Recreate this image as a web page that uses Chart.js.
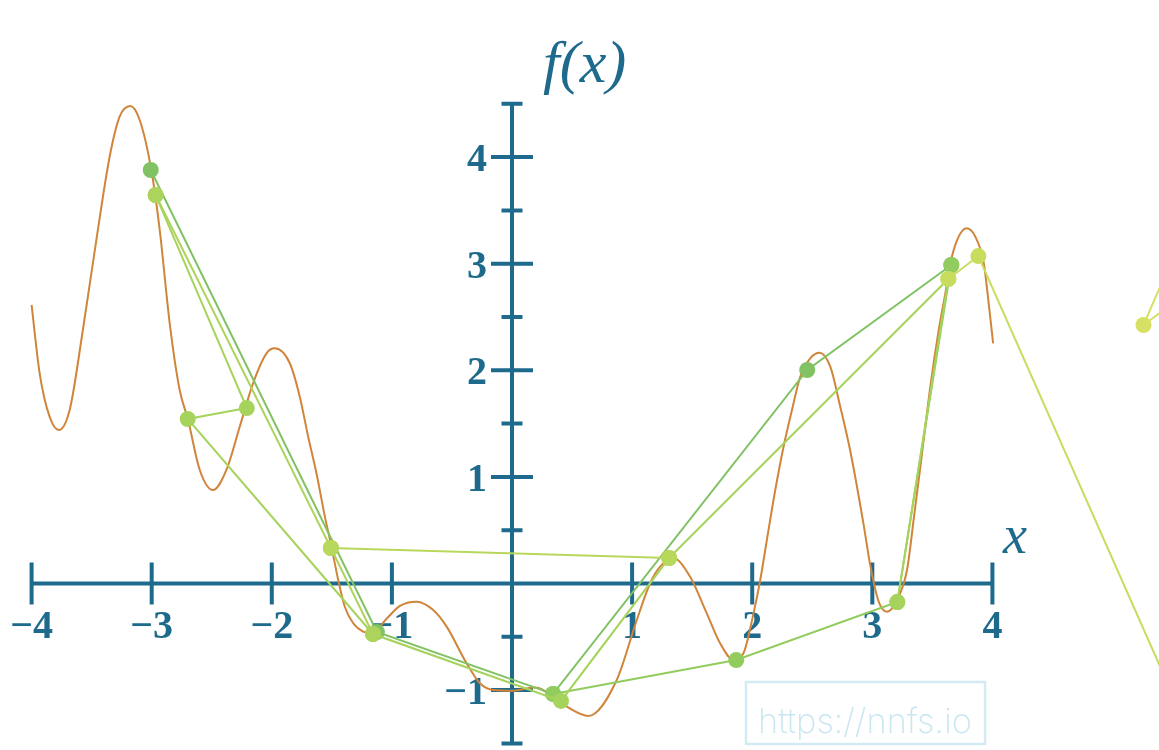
<!DOCTYPE html>
<html>
<head>
<meta charset="utf-8">
<script src="https://cdn.jsdelivr.net/npm/chart.js@4.4.1/dist/chart.umd.min.js"></script>
<style>
    html, body { margin: 0; padding: 0; background: #ffffff; overflow: hidden; }
    #chart-wrap { position: relative; width: 1159px; height: 750px; }
    #fit-chart { display: block; }
</style>
</head>
<body>
<div id="chart-wrap"><canvas id="fit-chart"></canvas></div>
<script>
// target function samples (orange curve)
const curveX = [-4.0, -3.933, -3.85, -3.773, -3.683, -3.573, -3.461, -3.35, -3.267, -3.178, -3.1, -3.003, -2.933, -2.85, -2.767, -2.697, -2.6, -2.489, -2.378, -2.267, -2.156, -2.044, -1.975, -1.85, -1.767, -1.697, -1.628, -1.558, -1.503, -1.447, -1.392, -1.322, -1.239, -1.17, -1.044, -0.933, -0.794, -0.656, -0.544, -0.378, -0.267, -0.156, 0.011, 0.178, 0.233, 0.456, 0.636, 0.872, 1.039, 1.15, 1.233, 1.344, 1.483, 1.622, 1.733, 1.844, 1.928, 2.011, 2.067, 2.122, 2.192, 2.261, 2.331, 2.4, 2.483, 2.561, 2.65, 2.733, 2.817, 2.928, 2.983, 3.053, 3.122, 3.206, 3.289, 3.344, 3.414, 3.483, 3.553, 3.608, 3.65, 3.706, 3.783, 3.858, 3.928, 3.969, 4.006];
const curveY = [2.613, 1.972, 1.565, 1.44, 1.628, 2.378, 3.222, 4.004, 4.379, 4.479, 4.348, 3.879, 3.316, 2.441, 1.815, 1.534, 1.065, 0.877, 1.065, 1.471, 1.878, 2.159, 2.206, 2.066, 1.753, 1.377, 1.034, 0.627, 0.345, 0.033, -0.218, -0.373, -0.452, -0.47, -0.33, -0.21, -0.171, -0.249, -0.405, -0.749, -0.936, -0.999, -1.006, -0.975, -0.985, -1.156, -1.243, -0.905, -0.342, 0.002, 0.158, 0.236, 0.064, -0.28, -0.561, -0.718, -0.652, -0.28, 0.033, 0.408, 0.877, 1.283, 1.628, 1.94, 2.113, 2.165, 2.034, 1.659, 1.24, 0.55, 0.17, -0.17, -0.265, -0.155, 0.127, 0.596, 1.221, 1.846, 2.378, 2.722, 3.004, 3.222, 3.332, 3.253, 3.004, 2.628, 2.253];

// fitted polylines (green shades)
const fitAX = [-3.008, -1.125, 0.342, 2.458, 3.658];
const fitAY = [3.879, -0.455, -1.036, 2.003, 2.988];
const fitBX = [0.342, 1.867, 3.208, 3.658];
const fitBY = [-1.036, -0.718, -0.174, 2.988];
const fitCX = [-2.967, -2.208, -2.70, -1.158, 0.408, 1.308, 3.633, 3.208];
const fitCY = [3.644, 1.646, 1.543, -0.474, -1.102, 0.239, 2.857, -0.174];
const fitDX = [-2.967, -1.508, -1.158];
const fitDY = [3.644, 0.333, -0.474];
const fitEX = [-1.508, 1.308];
const fitEY = [0.333, 0.239];
const fitFX = [3.633, 3.883, 6.0];
const fitFY = [2.857, 3.072, -2.314];
const fitGX = [5.8, 5.258, 5.8];
const fitGY = [3.836, 2.425, 2.882];

const xTicks = [-4, -3, -2, -1, 1, 2, 3, 4];
const yTicks = [-1, 1, 2, 3, 4];
const yMinorTicks = [-1.5, -0.5, 0.5, 1.5, 2.5, 3.5, 4.5];

const axisColor = '#1e6a8c';

const toPoints = (xs, ys) => xs.map((x, i) => ({ x: x, y: ys[i] }));

const fitDataset = (xs, ys, color) => ({
    data: toPoints(xs, ys),
    showLine: true,
    borderColor: color,
    backgroundColor: color,
    borderWidth: 2,
    pointRadius: 8,
    pointBorderWidth: 0,
    order: 1
});

const minus = (v) => (v < 0 ? '\u2212' + Math.abs(v) : String(v));

// axes through the origin, drawn under the data
const axesPlugin = {
    id: 'originAxes',
    beforeDatasetsDraw: (chart) => {
        const ctx = chart.ctx;
        const sx = chart.scales.x;
        const sy = chart.scales.y;
        const x0 = sx.getPixelForValue(0);
        const y0 = sy.getPixelForValue(0);

        ctx.save();
        ctx.strokeStyle = axisColor;
        ctx.fillStyle = axisColor;
        ctx.lineWidth = 4;
        ctx.lineCap = 'butt';

        ctx.beginPath();
        ctx.moveTo(sx.getPixelForValue(-4), y0);
        ctx.lineTo(sx.getPixelForValue(4), y0);
        ctx.moveTo(x0, sy.getPixelForValue(-1.5));
        ctx.lineTo(x0, sy.getPixelForValue(4.5));
        xTicks.forEach((t) => {
            const px = sx.getPixelForValue(t);
            ctx.moveTo(px, y0 - 21);
            ctx.lineTo(px, y0 + 21);
        });
        yTicks.forEach((t) => {
            const py = sy.getPixelForValue(t);
            ctx.moveTo(x0 - 21, py);
            ctx.lineTo(x0 + 21, py);
        });
        yMinorTicks.forEach((t) => {
            const py = sy.getPixelForValue(t);
            ctx.moveTo(x0 - 10.5, py);
            ctx.lineTo(x0 + 10.5, py);
        });
        ctx.stroke();

        ctx.font = 'bold 40px "Liberation Serif"';
        ctx.textAlign = 'center';
        ctx.textBaseline = 'alphabetic';
        xTicks.forEach((t) => {
            ctx.fillText(minus(t), sx.getPixelForValue(t), y0 + 55);
        });
        ctx.textAlign = 'right';
        yTicks.forEach((t) => {
            ctx.fillText(minus(t), x0 - 25, sy.getPixelForValue(t) + 14);
        });

        ctx.font = 'italic 60px "Liberation Serif"';
        ctx.textAlign = 'left';
        ctx.fillText('f(x)', 543, 82);
        ctx.font = 'italic 54px "Liberation Serif"';
        ctx.fillText('x', 1003, 553);
        ctx.restore();
    },
    afterDraw: (chart) => {
        const ctx = chart.ctx;
        ctx.save();
        ctx.strokeStyle = '#d3ebf4';
        ctx.lineWidth = 2.5;
        ctx.strokeRect(746, 682, 239, 62);
        ctx.fillStyle = '#c9e6f1';
        let size = 48;
        ctx.font = '200 ' + size + 'px Inter';
        size = size * 214 / ctx.measureText('https://nnfs.io').width;
        ctx.font = '200 ' + size + 'px Inter';
        ctx.textAlign = 'left';
        ctx.textBaseline = 'alphabetic';
        ctx.fillText('https://nnfs.io', 758, 733);
        ctx.restore();
    }
};

const initChart = () => {
    new Chart(document.querySelector('#fit-chart'), {
        type: 'scatter',
        data: {
            datasets: [
                fitDataset(fitGX, fitGY, '#d6e064'),
                fitDataset(fitFX, fitFY, '#c8dc5e'),
                fitDataset(fitEX, fitEY, '#b8d85c'),
                fitDataset(fitDX, fitDY, '#acd45c'),
                fitDataset(fitCX, fitCY, '#a6d35b'),
                fitDataset(fitBX, fitBY, '#92cc5f'),
                fitDataset(fitAX, fitAY, '#80c264'),
                {
                    data: toPoints(curveX, curveY),
                    showLine: true,
                    borderColor: '#d0853a',
                    borderWidth: 2,
                    pointRadius: 0,
                    cubicInterpolationMode: 'monotone',
                    order: 5
                }
            ]
        },
        options: {
            responsive: true,
            maintainAspectRatio: false,
            animation: false,
            layout: { padding: 0, autoPadding: false },
            plugins: {
                legend: { display: false },
                tooltip: { enabled: false }
            },
            scales: {
                x: { type: 'linear', min: -4.263, max: 5.387, display: false },
                y: { type: 'linear', min: -1.562, max: 5.474, display: false }
            }
        },
        plugins: [axesPlugin]
    });
}

initChart();
</script>
</body>
</html>
